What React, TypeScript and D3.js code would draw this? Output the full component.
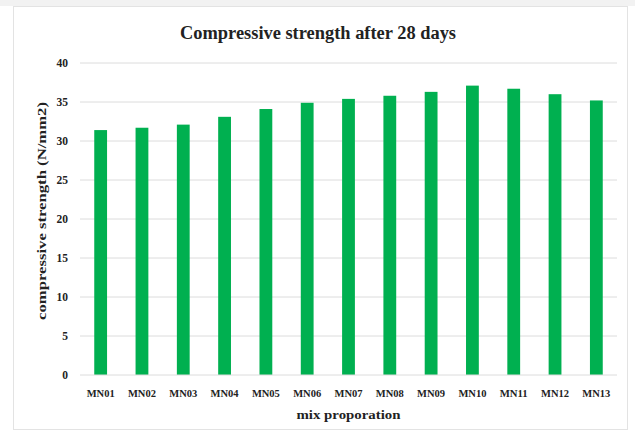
import React from "react";
import * as d3 from "d3";

const categories = ["MN01", "MN02", "MN03", "MN04", "MN05", "MN06", "MN07", "MN08", "MN09", "MN10", "MN11", "MN12", "MN13"];
const strengthValues = [31.4, 31.7, 32.1, 33.1, 34.1, 34.9, 35.4, 35.8, 36.3, 37.1, 36.7, 36.0, 35.2];
const yTicks = [0, 5, 10, 15, 20, 25, 30, 35, 40];
const titleText = "Compressive strength after 28 days";
const xTitle = "mix proporation";
const yTitle = "compressive strength (N/mm2)";

const W = 635;
const H = 432;
const plot = { left: 80, right: 617, top: 63, bottom: 375 };
const FONT = "'Liberation Serif', 'Times New Roman', serif";

export default function App() {
  const x = d3
    .scaleBand<string>()
    .domain(categories)
    .range([plot.left, plot.right])
    .paddingInner(0.69)
    .paddingOuter(0.345);
  const y = d3.scaleLinear().domain([0, 40]).range([plot.bottom, plot.top]);

  return (
    <svg
      width={W}
      height={H}
      style={{ position: "absolute", left: 0, top: 0, background: "#fff" }}
    >
      <rect x={0} y={0} width={W} height={6} fill="#f2f2f2" />
      <rect x={13.5} y={6.5} width={614} height={423} fill="#fff" stroke="#e3e3e3" />

      <text
        x={318}
        y={39}
        textAnchor="middle"
        fontFamily={FONT}
        fontWeight="bold"
        fontSize={18}
        textLength={276}
        lengthAdjust="spacingAndGlyphs"
        fill="#222"
      >
        {titleText}
      </text>

      {yTicks.map((t) => (
        <g key={t}>
          {t > 0 && (
            <line
              x1={plot.left}
              x2={plot.right}
              y1={y(t)}
              y2={y(t)}
              stroke="#dcdcdc"
              strokeWidth={1}
            />
          )}
          <text
            x={68}
            y={y(t)}
            dy="0.35em"
            textAnchor="end"
            fontFamily={FONT}
            fontWeight="bold"
            fontSize={11.5}
            fill="#222"
          >
            {t}
          </text>
        </g>
      ))}

      {categories.map((c, i) => (
        <rect
          key={c}
          x={x(c)}
          y={y(strengthValues[i])}
          width={x.bandwidth()}
          height={y(0) - y(strengthValues[i])}
          fill="#00b050"
        />
      ))}

      <line x1={plot.left} x2={plot.right} y1={y(0)} y2={y(0)} stroke="#dcdcdc" />

      {categories.map((c) => (
        <text
          key={c}
          x={(x(c) as number) + x.bandwidth() / 2}
          y={397}
          textAnchor="middle"
          fontFamily={FONT}
          fontWeight="bold"
          fontSize={11}
          textLength={28}
          lengthAdjust="spacingAndGlyphs"
          fill="#222"
        >
          {c}
        </text>
      ))}

      <text
        x={(plot.left + plot.right) / 2}
        y={419}
        textAnchor="middle"
        fontFamily={FONT}
        fontWeight="bold"
        fontSize={13}
        textLength={104}
        lengthAdjust="spacingAndGlyphs"
        fill="#222"
      >
        {xTitle}
      </text>

      <text
        transform="translate(46, 211) rotate(-90)"
        textAnchor="middle"
        fontFamily={FONT}
        fontWeight="bold"
        fontSize={13}
        textLength={218}
        lengthAdjust="spacingAndGlyphs"
        fill="#222"
      >
        {yTitle}
      </text>
    </svg>
  );
}
